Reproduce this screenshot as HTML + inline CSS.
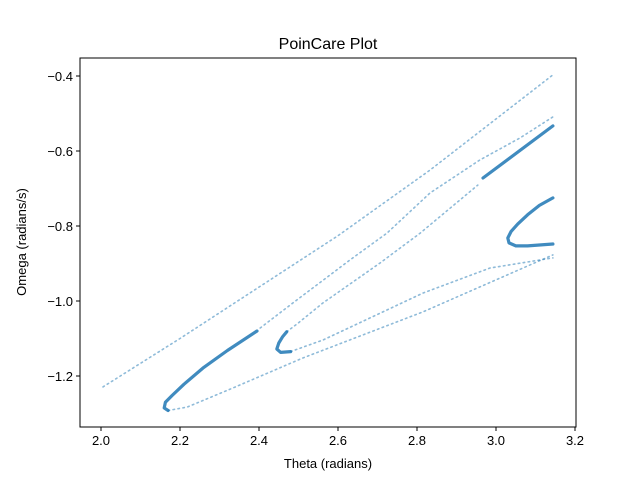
<!DOCTYPE html>
<html><head><meta charset="utf-8"><style>
body{margin:0;background:#fff}
svg{display:block;font-family:"Liberation Sans","DejaVu Sans",sans-serif}
</style></head><body>
<svg id="c" width="640" height="480" viewBox="0 0 640 480">
<rect width="640" height="480" fill="#fff"/>
<text x="328" y="49" font-size="16" text-anchor="middle">PoinCare Plot</text>
<g id="plot"></g>
<g id="axes"></g>
<text x="328" y="468" font-size="13" text-anchor="middle">Theta (radians)</text>
<text x="26" y="242" font-size="13" text-anchor="middle" transform="rotate(-90 26 242)">Omega (radians/s)</text>
</svg>
<script>
const xTicks=[2.0,2.2,2.4,2.6,2.8,3.0,3.2];
const yTicks=[-0.4,-0.6,-0.8,-1.0,-1.2];
const xTickLabels=["2.0","2.2","2.4","2.6","2.8","3.0","3.2"];
const yTickLabels=["\u22120.4","\u22120.6","\u22120.8","\u22121.0","\u22121.2"];
const outerLineX=[2.005,2.2,2.4,2.6,2.833,3.144];
const outerLineY=[-1.229,-1.10,-0.963,-0.826,-0.651,-0.397];
const branchDenseX=[2.17,2.16,2.163,2.18,2.21,2.258,2.32,2.395];
const branchDenseY=[-1.292,-1.285,-1.27,-1.252,-1.222,-1.179,-1.132,-1.080];
const branchSparseX=[2.403,2.486,2.630,2.724,2.833,2.959,3.061,3.144];
const branchSparseY=[-1.072,-1.005,-0.891,-0.819,-0.712,-0.624,-0.565,-0.509];
const bottomX=[2.17,2.218,2.334,2.511,2.815,3.144];
const bottomY=[-1.292,-1.283,-1.232,-1.152,-1.029,-0.877];
const cusp2DenseX=[2.48,2.455,2.445,2.45,2.46,2.47];
const cusp2DenseY=[-1.135,-1.137,-1.128,-1.112,-1.095,-1.082];
const cusp2LowX=[2.48,2.562,2.815,2.985,3.144];
const cusp2LowY=[-1.135,-1.104,-0.979,-0.912,-0.885];
const cusp2UpX=[2.47,2.5,2.562,2.706,2.808,2.954];
const cusp2UpY=[-1.082,-1.058,-1.005,-0.899,-0.819,-0.691];
const upperDenseX=[2.967,3.144];
const upperDenseY=[-0.672,-0.533];
const uCurveX=[3.144,3.11,3.08,3.055,3.038,3.03,3.033,3.05,3.08,3.144];
const uCurveY=[-0.725,-0.745,-0.77,-0.795,-0.815,-0.832,-0.845,-0.853,-0.853,-0.848];

const L=80,R=576,T=58,B=427;
const sx=v=>101+(v-2.0)*395;
const sy=v=>76+(-0.4-v)*375;
const NS="http://www.w3.org/2000/svg";
const plot=document.getElementById('plot');
const axes=document.getElementById('axes');
function mk(t,a,p){const e=document.createElementNS(NS,t);for(const k in a)e.setAttribute(k,a[k]);p.appendChild(e);return e;}
function series(xs,ys,name,dense){
  const pts=xs.map((x,i)=>sx(x).toFixed(1)+','+sy(ys[i]).toFixed(1)).join(' ');
  const e=mk('polyline',{points:pts,fill:'none',stroke:'#1f77b4','stroke-linejoin':'round','stroke-linecap':'round',
    'stroke-width':dense?3.2:1.6,'stroke-opacity':dense?0.85:0.5,'stroke-dasharray':dense?'none':'1.5 3.5'},plot);
  
  
}
series(outerLineX,outerLineY,'outer-line-series',false);
series(branchSparseX,branchSparseY,'branch-sparse-series',false);
series(bottomX,bottomY,'bottom-branch-series',false);
series(cusp2LowX,cusp2LowY,'cusp2-lower-series',false);
series(cusp2UpX,cusp2UpY,'cusp2-upper-series',false);
series(cusp2DenseX,cusp2DenseY,'cusp2-dense-series',true);
series(branchDenseX,branchDenseY,'branch-dense-series',true);
series(upperDenseX,upperDenseY,'upper-dense-series',true);
series(uCurveX,uCurveY,'u-curve-series',true);
const fr=mk('rect',{x:L,y:T,width:R-L,height:B-T,fill:'none',stroke:'#000','stroke-width':1},axes);


xTicks.forEach((v,i)=>{
  const x=sx(v);
  const t=mk('line',{x1:x,x2:x,y1:B,y2:B+4,stroke:'#000'},axes);
  
  
  const l=mk('text',{x:x,y:B+18,'font-size':13,'text-anchor':'middle'},axes);
  l.textContent=xTickLabels[i];
  
  
});
yTicks.forEach((v,i)=>{
  const y=sy(v);
  const t=mk('line',{x1:L-4,x2:L,y1:y,y2:y,stroke:'#000'},axes);
  
  
  const l=mk('text',{x:L-7,y:y+5,'font-size':13,'text-anchor':'end'},axes);
  l.textContent=yTickLabels[i];
  
  
});
</script>
</body></html>
